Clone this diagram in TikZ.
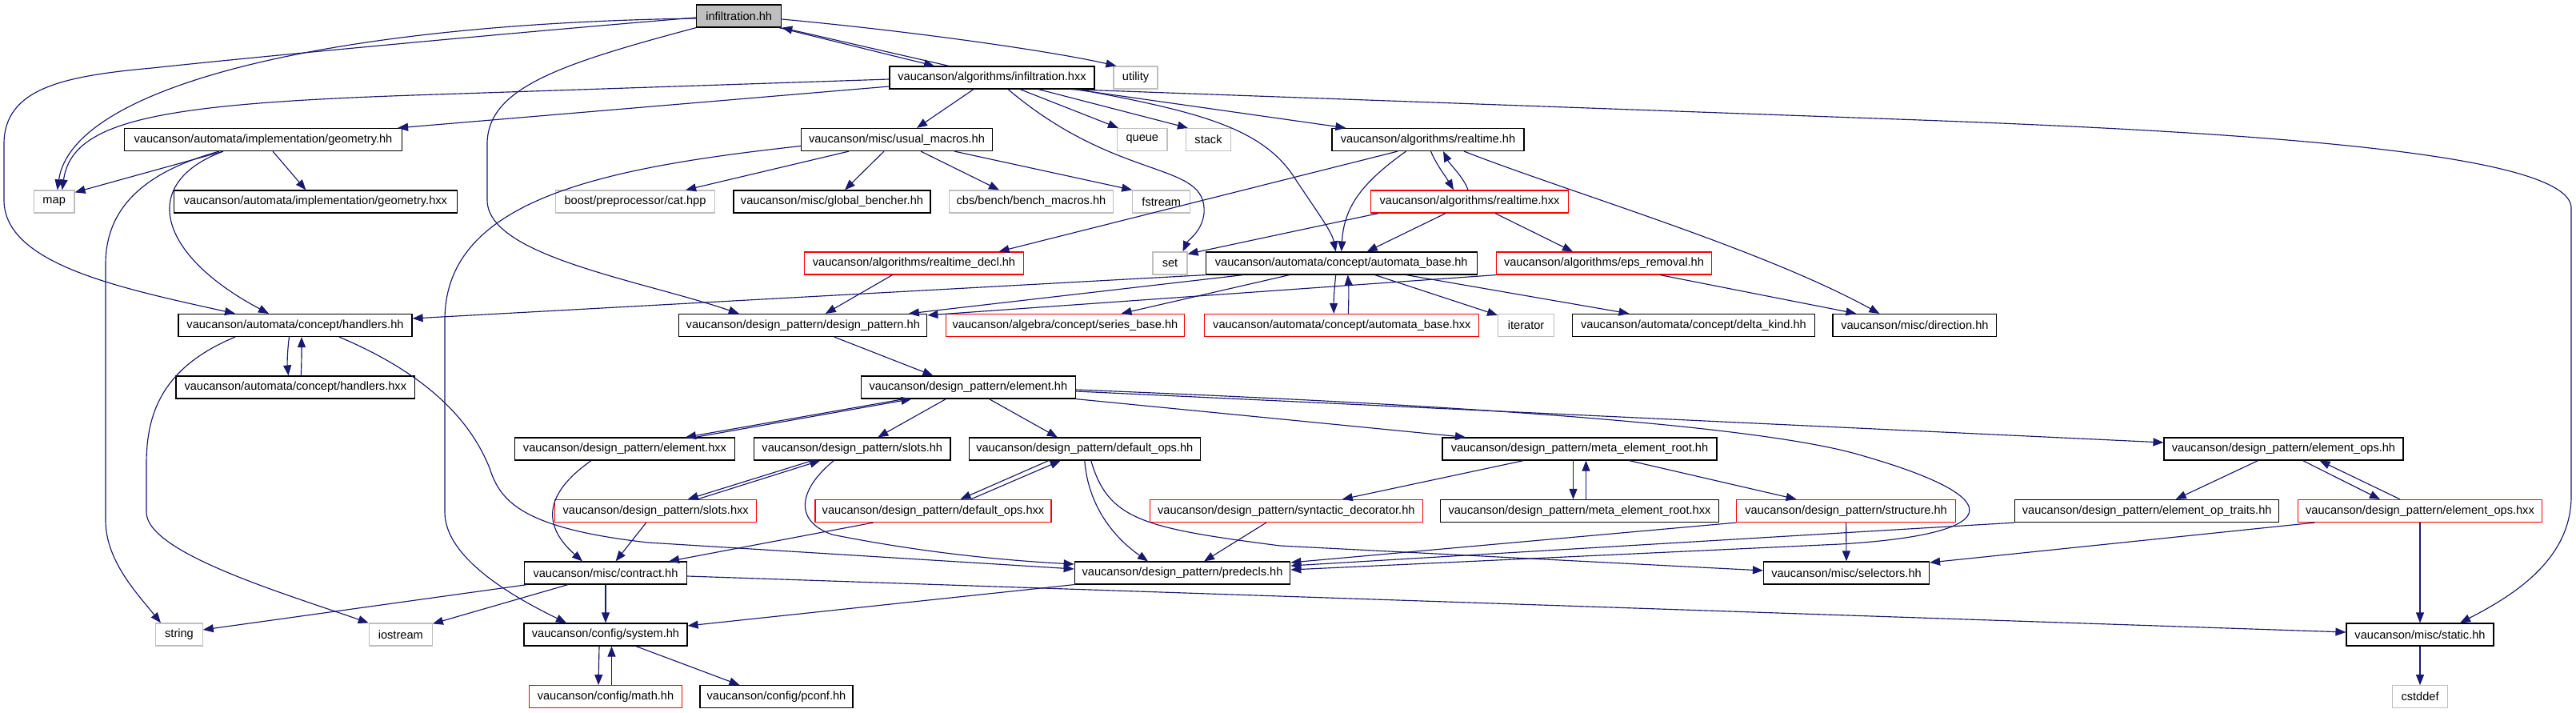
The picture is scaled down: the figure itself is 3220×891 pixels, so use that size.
\documentclass[tikz,border=0pt]{standalone}
\usepackage{fontspec}
\setmainfont{Liberation Sans}
\usetikzlibrary{arrows.meta}
\definecolor{edgec}{HTML}{191970}
\definecolor{redc}{HTML}{FF0000}
\definecolor{extc}{HTML}{BFBFBF}
\definecolor{rootc}{HTML}{BFBFBF}
\begin{document}
\begin{tikzpicture}[x=1pt,y=-1pt,
  box/.style={draw=black, line width=1.2pt, rectangle, minimum height=28pt, inner sep=0pt, font=\fontsize{14.6}{17}\selectfont, fill=white},
  doc/.style={box},
  trunc/.style={box, draw=redc},
  ext/.style={box, draw=extc},
  root/.style={box, fill=rootc},
  edge/.style={draw=edgec, line width=1.15pt, -{Triangle[length=13pt,width=10pt]}}
]
\useasboundingbox (0,0) rectangle (3220,891);
% row 0
\node[root, minimum width=106pt] (I) at (923.7,20) {infiltration.hh};
% row 1
\node[doc, minimum width=256pt] (Ihxx) at (1240,97) {vaucanson/algorithms/infiltration.hxx};
\node[ext, minimum width=55pt] (utility) at (1419.5,97) {utility};
% row 2
\node[doc, minimum width=347pt] (geomhh) at (329,174.5) {vaucanson/automata/implementation/geometry.hh};
\node[doc, minimum width=239pt] (usual) at (1121,174.5) {vaucanson/misc/usual\_macros.hh};
\node[ext, minimum width=62.5pt] (queue) at (1427.8,174.5) {queue};
\node[ext, minimum width=56pt] (stack) at (1510.5,174.5) {stack};
\node[doc, minimum width=240pt] (rthh) at (1785,174.5) {vaucanson/algorithms/realtime.hh};
% row 3
\node[ext, minimum width=50.6pt] (map) at (67.7,252) {map};
\node[doc, minimum width=354pt] (geomhxx) at (394.4,252) {vaucanson/automata/implementation/geometry.hxx};
\node[ext, minimum width=199pt] (boost) at (794,252) {boost/preprocessor/cat.hpp};
\node[doc, minimum width=246pt] (bencher) at (1040,252) {vaucanson/misc/global\_bencher.hh};
\node[ext, minimum width=205.6pt] (benchm) at (1289,252) {cbs/bench/bench\_macros.hh};
\node[ext, minimum width=72pt] (fstream) at (1451.8,252) {fstream};
\node[trunc, minimum width=247pt] (rthxx) at (1837,252) {vaucanson/algorithms/realtime.hxx};
% row 4
\node[trunc, minimum width=274pt] (rtdecl) at (1142.5,329) {vaucanson/algorithms/realtime\_decl.hh};
\node[ext, minimum width=43pt] (set) at (1462.5,329) {set};
\node[doc, minimum width=339pt] (abhh) at (1676.7,329) {vaucanson/automata/concept/automata\_base.hh};
\node[trunc, minimum width=269pt] (eps) at (2005,329) {vaucanson/algorithms/eps\_removal.hh};
% row 5
\node[doc, minimum width=292pt] (handhh) at (369,406.5) {vaucanson/automata/concept/handlers.hh};
\node[doc, minimum width=310pt] (dphh) at (1003.8,406.5) {vaucanson/design\_pattern/design\_pattern.hh};
\node[trunc, minimum width=298.6pt] (series) at (1331.5,406.5) {vaucanson/algebra/concept/series\_base.hh};
\node[trunc, minimum width=343pt] (abhxx) at (1677.3,406.5) {vaucanson/automata/concept/automata\_base.hxx};
\node[ext, minimum width=70pt] (iterator) at (1907.6,406.5) {iterator};
\node[doc, minimum width=302.7pt] (delta) at (2117,406.5) {vaucanson/automata/concept/delta\_kind.hh};
\node[doc, minimum width=204.7pt] (direction) at (2393.4,406.5) {vaucanson/misc/direction.hh};
% row 6
\node[doc, minimum width=298.6pt] (handhxx) at (369.3,484) {vaucanson/automata/concept/handlers.hxx};
\node[doc, minimum width=268pt] (elemhh) at (1210.4,484) {vaucanson/design\_pattern/element.hh};
% row 7
\node[doc, minimum width=274.7pt] (elemhxx) at (781,561) {vaucanson/design\_pattern/element.hxx};
\node[doc, minimum width=245.4pt] (slotshh) at (1065.3,561) {vaucanson/design\_pattern/slots.hh};
\node[doc, minimum width=289pt] (dophh) at (1355.8,561) {vaucanson/design\_pattern/default\_ops.hh};
\node[doc, minimum width=343pt] (merhh) at (1974.5,561) {vaucanson/design\_pattern/meta\_element\_root.hh};
\node[doc, minimum width=299pt] (eophh) at (2854.5,561) {vaucanson/design\_pattern/element\_ops.hh};
% row 8
\node[trunc, minimum width=252pt] (slotshxx) at (819.7,638.5) {vaucanson/design\_pattern/slots.hxx};
\node[trunc, minimum width=295pt] (dophxx) at (1166.5,638.5) {vaucanson/design\_pattern/default\_ops.hxx};
\node[trunc, minimum width=340.8pt] (synt) at (1607.8,638.5) {vaucanson/design\_pattern/syntactic\_decorator.hh};
\node[doc, minimum width=348pt] (merhxx) at (1974.5,638.5) {vaucanson/design\_pattern/meta\_element\_root.hxx};
\node[trunc, minimum width=273.7pt] (struct) at (2307.6,638.5) {vaucanson/design\_pattern/structure.hh};
\node[doc, minimum width=330pt] (eoptr) at (2683.7,638.5) {vaucanson/design\_pattern/element\_op\_traits.hh};
\node[trunc, minimum width=304.4pt] (eophxx) at (3025,638.5) {vaucanson/design\_pattern/element\_ops.hxx};
% row 9
\node[doc, minimum width=203pt] (contract) at (757,716) {vaucanson/misc/contract.hh};
\node[doc, minimum width=269.5pt] (predecls) at (1478,716) {vaucanson/design\_pattern/predecls.hh};
\node[doc, minimum width=207pt] (selectors) at (2308,716) {vaucanson/misc/selectors.hh};
% row 10
\node[ext, minimum width=58.4pt] (string) at (224,793) {string};
\node[ext, minimum width=79pt] (iostream) at (500.8,793) {iostream};
\node[doc, minimum width=204pt] (system) at (757,793) {vaucanson/config/system.hh};
\node[doc, minimum width=184pt] (static) at (3025,793) {vaucanson/misc/static.hh};
% row 11
\node[trunc, minimum width=191pt] (math) at (757,870.7) {vaucanson/config/math.hh};
\node[doc, minimum width=191pt] (pconf) at (970.5,870.7) {vaucanson/config/pconf.hh};
\node[ext, minimum width=69.5pt] (cstddef) at (3025,870.7) {cstddef};

% ---- edges from infiltration.hh
\draw[edge] ([yshift=-3pt]I.west) .. controls (400,30) and (90,110) .. ([xshift=4pt]map.north);
\draw[edge] ([yshift=-2pt]I.west) .. controls (650,40) and (330,70) .. (190,85) .. controls (80,95) and (5,110) .. (5,180) -- (5,250) .. controls (5,330) and (150,360) .. ([xshift=-75pt]handhh.north);
\draw[edge] (I.south west) .. controls (700,80) and (609,110) .. (609,180) -- (609,250) .. controls (609,320) and (800,350) .. ([xshift=-80pt]dphh.north);
\draw[edge] ([xshift=50pt]I.south) -- ([xshift=-72pt]Ihxx.north);
\draw[edge] ([yshift=-4pt]I.east) .. controls (1150,40) and (1320,65) .. ([xshift=4pt]utility.north west);
% ---- edges from infiltration.hxx
\draw[edge] ([xshift=-54pt]Ihxx.north) -- (I.south east);
\draw[edge] ([yshift=-2pt]Ihxx.west) -- (516,119) .. controls (200,130) and (90,150) .. ([xshift=10pt]map.north);
\draw[edge] ([yshift=-11pt]Ihxx.west) -- ([xshift=-6pt]geomhh.north east);
\draw[edge] ([xshift=-23pt]Ihxx.south) -- ([xshift=25pt]usual.north);
\draw[edge] ([xshift=20pt]Ihxx.south) .. controls (1400,230) and (1510,200) .. (1505,267) .. controls (1502,290) and (1485,300) .. ([xshift=16pt]set.north);
\draw[edge] ([xshift=35pt]Ihxx.south) -- ([xshift=2pt]queue.north west);
\draw[edge] ([xshift=58pt]Ihxx.south) -- ([xshift=3pt]stack.north west);
\draw[edge] ([xshift=-31pt]Ihxx.south east) -- (2400,150) .. controls (2800,165) and (3214,190) .. (3214,260) -- (3214,620) .. controls (3214,700) and (3140,745) .. ([xshift=50pt]static.north);
\draw[edge] ([xshift=-26pt]Ihxx.south east) -- ([xshift=18pt]rthh.north west);
\draw[edge] ([xshift=-21pt]Ihxx.south east) .. controls (1500,140) and (1580,160) .. (1620,225) .. controls (1650,270) and (1665,290) .. ([xshift=-7pt]abhh.north);
% ---- usual_macros
\draw[edge] ([xshift=-60pt]usual.south) -- ([xshift=-37pt]boost.north east);
\draw[edge] ([xshift=-16pt]usual.south) -- ([xshift=16pt]bencher.north);
\draw[edge] ([xshift=30pt]usual.south) -- ([xshift=-40pt]benchm.north);
\draw[edge] ([xshift=72pt]usual.south) -- (fstream.north west);
\draw[edge] ([yshift=-8pt]usual.west) .. controls (750,210) and (556,250) .. (556,400) -- (556,640) .. controls (556,700) and (650,750) .. ([xshift=-49pt]system.north);
% ---- geometry.hh
\draw[edge] ([xshift=-50pt]geomhh.south) -- ([yshift=-3pt]map.north east);
\draw[edge] ([xshift=12pt]geomhh.south) -- ([xshift=-12pt]geomhxx.north);
\draw[edge] ([xshift=-55pt]geomhh.south) .. controls (180,215) and (132,260) .. (132,330) -- (132,650) .. controls (132,700) and (170,740) .. ([xshift=-23pt]string.north);
\draw[edge] ([xshift=-50pt]geomhh.south) .. controls (170,230) and (200,320) .. ([xshift=-33pt]handhh.north);
% ---- realtime
\draw[edge] ([xshift=3.5pt]rthh.south) .. controls (1795,205) and (1808,222) .. ([xshift=-20pt]rthxx.north);
\draw[edge] ([xshift=-2pt]rthxx.north) .. controls (1830,222) and (1812,205) .. ([xshift=19pt]rthh.south);
\draw[edge] ([xshift=-38pt]rthh.south) -- ([xshift=106pt]rtdecl.north);
\draw[edge] ([xshift=-27.5pt]rthh.south) .. controls (1700,230) and (1680,260) .. (abhh.north);
\draw[edge] ([xshift=45pt]rthh.south) .. controls (1960,240) and (2200,310) .. ([xshift=-44pt]direction.north);
\draw[edge] ([xshift=10pt]rthxx.south west) -- ([yshift=-3pt]set.north east);
\draw[edge] ([xshift=-30pt]rthxx.south) -- ([xshift=32pt]abhh.north);
\draw[edge] ([xshift=32pt]rthxx.south) -- ([xshift=-39pt]eps.north);
\draw[edge] ([xshift=-27pt]rtdecl.south) -- ([xshift=28pt]dphh.north);
% ---- automata_base
\draw[edge] (abhh.south west) -- ([yshift=8.5pt]handhh.east);
\draw[edge] ([xshift=-123pt]abhh.south) -- ([xshift=132pt]dphh.north);
\draw[edge] ([xshift=-65pt]abhh.south) -- ([xshift=70pt]series.north);
\draw[edge] ([xshift=-7pt]abhh.south) .. controls (1668,360) and (1667,375) .. ([xshift=-10pt]abhxx.north);
\draw[edge] ([xshift=8pt]abhxx.north) .. controls (1686,375) and (1686,360) .. ([xshift=8pt]abhh.south);
\draw[edge] ([xshift=42pt]abhh.south) -- ([yshift=-2pt]iterator.north west);
\draw[edge] ([xshift=81pt]abhh.south) -- ([xshift=-80.5pt]delta.north);
\draw[edge] (eps.south west) -- ([yshift=-2pt]dphh.north east);
\draw[edge] ([xshift=70pt]eps.south) -- ([xshift=-73pt]direction.north);
% ---- handlers
\draw[edge] ([xshift=-7.5pt]handhh.south) .. controls (359,440) and (359,455) .. ([xshift=-8.8pt]handhxx.north);
\draw[edge] ([xshift=7pt]handhxx.north) .. controls (377,455) and (377,440) .. ([xshift=8pt]handhh.south);
\draw[edge] ([xshift=-75pt]handhh.south) .. controls (200,460) and (183,520) .. (183,580) -- (183,640) .. controls (183,690) and (350,740) .. (iostream.north west);
\draw[edge] ([xshift=55pt]handhh.south) .. controls (540,470) and (590,530) .. (612,585) .. controls (625,625) and (650,660) .. (810,678) -- ([yshift=5pt]predecls.west);
% ---- design_pattern / element
\draw[edge] ([xshift=39pt]dphh.south) -- ([xshift=-44pt]elemhh.north);
\draw[edge] ([xshift=-80pt]elemhh.south) -- ([xshift=76pt]elemhxx.north);
\draw[edge] ([xshift=88pt]elemhxx.north) -- ([xshift=-71pt]elemhh.south);
\draw[edge] ([xshift=-28pt]elemhh.south) -- ([xshift=32pt]slotshh.north);
\draw[edge] ([xshift=26pt]elemhh.south) -- ([xshift=-34pt]dophh.north);
\draw[edge] (elemhh.south east) -- ([xshift=-142.5pt]merhh.north);
\draw[edge] ([yshift=-5pt]elemhh.east) -- ([yshift=8pt]eophh.west);
\draw[edge] ([yshift=-3pt]elemhh.east) .. controls (1800,505) and (2200,530) .. (2330,570) .. controls (2520,625) and (2500,668) .. (2300,680) -- ([yshift=4pt]predecls.east);
\draw[edge] ([xshift=-42pt]elemhxx.south) .. controls (690,610) and (670,650) .. ([xshift=-29pt]contract.north);
% ---- slots / default_ops
\draw[edge] ([xshift=-50pt]slotshh.south) -- ([xshift=40pt]slotshxx.north);
\draw[edge] ([xshift=52pt]slotshxx.north) -- ([xshift=-40pt]slotshh.south);
\draw[edge] ([xshift=-23pt]slotshh.south) .. controls (1000,610) and (990,650) .. (1040,668) .. controls (1150,690) and (1250,700) .. ([yshift=11pt]predecls.west);
\draw[edge] ([xshift=-12pt]slotshxx.south) -- ([xshift=12.6pt]contract.north);
\draw[edge] ([xshift=-45pt]dophh.south) -- ([xshift=34pt]dophxx.north);
\draw[edge] ([xshift=47pt]dophxx.north) -- ([xshift=-30pt]dophh.south);
\draw[edge] (dophh.south) .. controls (1360,630) and (1390,670) .. ([xshift=-43pt]predecls.north);
\draw[edge] ([xshift=8pt]dophh.south) .. controls (1385,650) and (1430,660) .. (1600,682) -- ([yshift=3pt]selectors.west);
\draw[edge] ([xshift=-75pt]dophxx.south) -- ([xshift=79pt]contract.north);
% ---- meta_element_root / structure
\draw[edge] ([xshift=-70pt]merhh.south) -- ([xshift=70pt]synt.north);
\draw[edge] ([xshift=-8pt]merhh.south) -- ([xshift=-8pt]merhxx.north);
\draw[edge] ([xshift=8pt]merhxx.north) -- ([xshift=8pt]merhh.south);
\draw[edge] ([xshift=62pt]merhh.south) -- ([xshift=-62pt]struct.north);
\draw[edge] ([xshift=-25pt]synt.south) -- ([xshift=27pt]predecls.north);
\draw[edge] (struct.south west) -- ([yshift=13pt]predecls.east);
\draw[edge] (struct.south) -- (selectors.north);
% ---- element_ops
\draw[edge] (eoptr.south west) -- ([yshift=9pt]predecls.east);
\draw[edge] ([xshift=-32pt]eophh.south) -- ([xshift=36pt]eoptr.north);
\draw[edge] ([xshift=24pt]eophh.south) -- ([xshift=-50pt]eophxx.north);
\draw[edge] ([xshift=-25pt]eophxx.north) -- ([xshift=45pt]eophh.south);
\draw[edge] ([xshift=21pt]eophxx.south west) -- ([yshift=13pt]selectors.east);
\draw[edge] (eophxx.south) -- (static.north);
% ---- contract / predecls / system
\draw[edge] ([xshift=4pt]contract.south west) -- ([yshift=6pt]string.east);
\draw[edge] ([xshift=-47pt]contract.south) -- ([yshift=-1pt]iostream.north east);
\draw[edge] (contract.south) -- (system.north);
\draw[edge] ([yshift=-4pt]contract.east) -- ([yshift=3pt]static.west);
\draw[edge] (predecls.south west) -- ([yshift=11pt]system.east);
\draw[edge] ([xshift=-8pt]system.south) -- ([xshift=-9pt]math.north);
\draw[edge] ([xshift=7.5pt]math.north) -- ([xshift=7.5pt]system.south);
\draw[edge] ([xshift=38pt]system.south) -- ([xshift=-46pt]pconf.north);
\draw[edge] (static.south) -- (cstddef.north);
\end{tikzpicture}
\end{document}
